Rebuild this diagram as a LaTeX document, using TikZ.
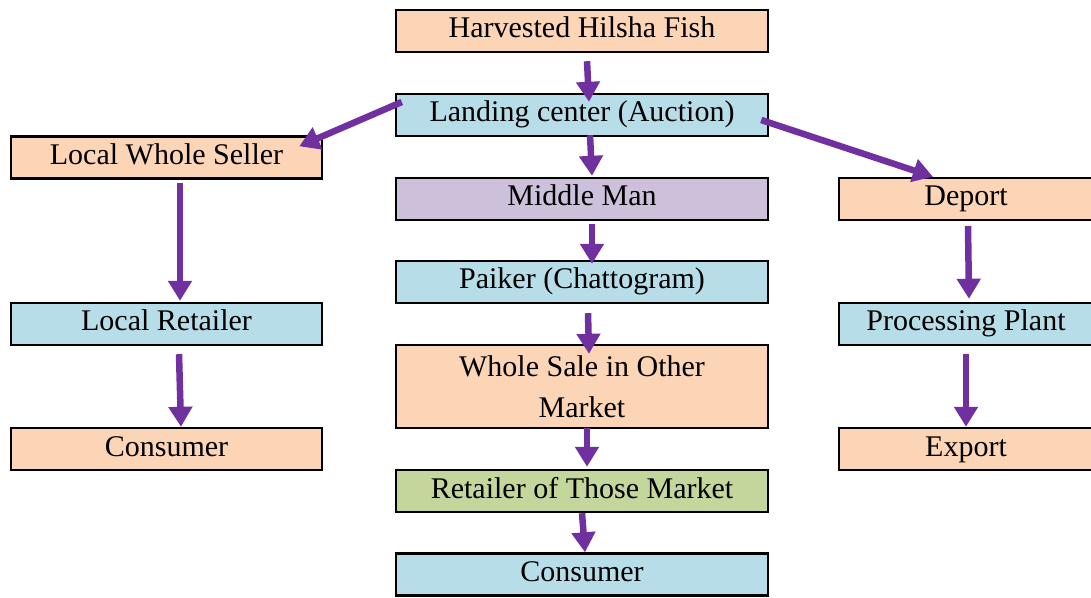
\documentclass[tikz,border=0pt]{standalone}
\usepackage{fontspec}
\setmainfont{Liberation Serif}
\usetikzlibrary{arrows.meta,calc}

\definecolor{peach}{HTML}{FBD5B5}
\definecolor{skyblue}{HTML}{B7DEE8}
\definecolor{lavender}{HTML}{CCC0DA}
\definecolor{olivegreen}{HTML}{C3D69B}
\definecolor{flowpurple}{HTML}{7030A0}

\begin{document}
\begin{tikzpicture}[x=0.5pt,y=-0.5pt,
        font=\fontsize{15}{20.5}\selectfont,
        box/.style={draw=black,line width=1.2pt,inner sep=0pt,
            text height=10.5pt,text depth=3.5pt,align=center,
            minimum height=21pt},
        mid/.style={box,minimum width=186pt},
        lft/.style={box,minimum width=155.5pt},
        rgt/.style={box,minimum width=127pt},
        flow/.style={draw=flowpurple,line width=3.25pt,
            -{Triangle[width=11.5pt,length=10pt]}}]
        \clip (0,0) rectangle (1091,598);

        % centre column
        \node[mid,fill=peach]      (harvest)     at (582,31)    {Harvested Hilsha Fish};
        \node[mid,fill=skyblue]    (landing)     at (582,115)   {Landing center (Auction)};
        \node[mid,fill=lavender]   (middleman)   at (582,199)   {Middle Man};
        \node[mid,fill=skyblue]    (paiker)      at (582,282)   {Paiker (Chattogram)};
        \node[mid,fill=peach,minimum height=41.5pt,text height=,text depth=]
                                   (othermarket) at (582,386.5) {Whole Sale in Other\\Market};
        \node[mid,fill=olivegreen] (retailer)    at (582,491)   {Retailer of Those Market};
        \node[mid,fill=skyblue]    (consumerC)   at (582,574.5) {Consumer};

        % left column
        \node[lft,fill=peach]      (wholeseller) at (166.5,157.5) {Local Whole Seller};
        \node[lft,fill=skyblue]    (localretail) at (166.5,324)   {Local Retailer};
        \node[lft,fill=peach]      (consumerL)   at (166.5,449)   {Consumer};

        % right column
        \node[rgt,fill=peach]      (deport)      at (966,199)   {Deport};
        \node[rgt,fill=skyblue]    (plant)       at (966,324)   {Processing Plant};
        \node[rgt,fill=peach]      (export)      at (966,449)   {Export};

        \foreach \a/\sa/\b/\sb in {
            harvest.south/{5,8}/landing.north/{7,9},
            landing.south/{8,-2}/middleman.north/{10,-1},
            landing.west/{7,-13}/wholeseller.north east/{-24,11},
            landing.east/{-8,5}/deport.north/{-33,0},
            middleman.south/{10,3}/paiker.north/{10,4},
            paiker.south/{6,9}/othermarket.north/{7,10},
            othermarket.south/{5,-1}/retailer.north/{5,-2},
            retailer.south/{0,0}/consumerC.north/{3,0},
            wholeseller.south/{13.5,3}/localretail.north/{13.5,-1},
            localretail.south/{12.5,8}/consumerL.north/{14.5,0},
            deport.south/{2,5}/plant.north/{3,-3},
            plant.south/{0,8}/export.north/{0,0}}
        {
            \draw[flow] ($(\a)+(\sa)$) -- ($(\b)+(\sb)$);
        }
    \end{tikzpicture}
\end{document}
